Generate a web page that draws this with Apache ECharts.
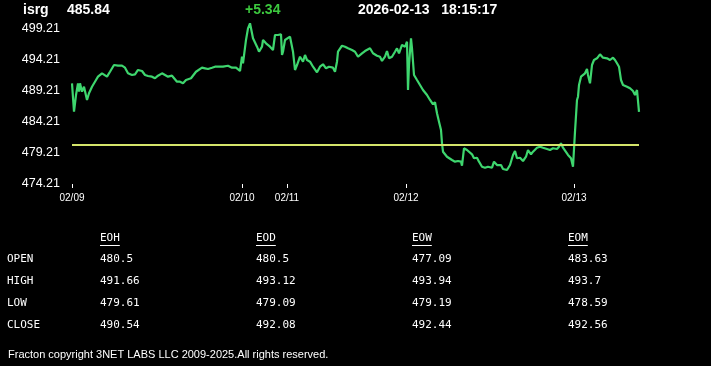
<!DOCTYPE html>
<html>
<head>
<meta charset="utf-8">
<script src="https://cdn.jsdelivr.net/npm/echarts@6/dist/echarts.min.js"></script>
<style>
html,body{margin:0;padding:0;background:#000;}
#c{width:711px;height:366px;}
</style>
</head>
<body>
<div id="c"></div>
<script>
// ---- data ----
const symbol = 'isrg';
const lastPrice = '485.84';
const change = '+5.34';
const stamp = '2026-02-13   18:15:17';
const refLevel = 480.5;

// sample index within the 5-session window, and price
const sampleIdx = [0,2,4,6,7,8,10,12,15,17,20,22,24,26,30,32,35,38,42,46,50,53,56,60,63,66,70,73,76,80,83,86,90,93,96,100,102,105,108,111,114,116,119,121,124,126,130,133,136,140,143,
145,151,156,160,164,168,170,171,174,176,178,180,181,183,185,187,190,191,194,196,198,201,203,206,209,210,211,213,215,218,220,221,223,225,228,231,233,235,238,241,243,245,248,251,254,257,261,263,265,266,270,273,276,280,283,286,
290,293,298,301,305,308,310,313,315,317,320,323,325,327,330,331,333,335,336,337,339,340,342,345,348,351,355,358,361,363,365,367,369,370,371,375,380,383,386,389,390,392,395,397,400,402,405,407,410,413,416,420,422,425,427,429,431,
435,438,441,443,445,448,451,454,456,459,461,465,468,471,475,478,481,485,487,489,491,493,496,499,501,502,503,505,506,507,509,511,513,515,516,518,520,522,525,528,531,535,538,541,543,545,547,549,551,555,558,561,563,565,566,567];
const price = [490.45,485.87,488.56,490.45,489.10,490.45,489.10,489.90,487.76,488.84,489.90,489.65,490.98,491.52,492.06,492.23,491.52,492.32,493.40,493.29,493.29,492.97,492.06,491.79,491.90,492.60,492.44,491.79,491.63,491.52,491.26,491.68,492.06,491.79,491.52,491.68,491.52,490.71,490.71,490.45,490.98,490.82,491.26,491.52,492.32,492.60,492.97,492.87,492.76,492.97,493.13,
493.13,493.13,493.29,492.97,492.97,492.44,494.74,493.68,497.44,499.32,500.13,499.86,497.71,497.60,496.36,495.55,496.36,497.44,496.90,496.63,496.36,495.82,498.24,498.24,498.36,495.02,495.55,497.44,497.71,497.97,497.71,495.55,492.60,493.40,494.74,493.94,495.02,494.21,493.94,493.13,492.87,492.23,493.13,493.52,492.87,493.13,492.97,492.32,493.94,495.55,496.52,496.36,496.10,495.82,495.55,494.74,
495.29,495.66,496.10,495.29,494.90,494.74,494.05,494.74,495.66,494.48,494.74,495.55,496.10,495.29,496.63,496.90,496.36,497.16,489.37,493.40,497.71,496.10,491.79,490.98,490.18,489.37,488.56,487.76,487.06,487.39,485.61,484.26,482.92,480.77,479.42,478.61,478.08,477.81,477.92,477.81,477.16,479.97,479.69,479.42,479.00,478.36,478.45,477.81,477.00,476.84,477.00,476.84,477.81,477.27,477.00,477.27,476.63,
476.47,477.27,478.89,479.53,478.36,478.45,477.92,478.61,479.69,479.00,479.42,480.06,480.23,480.06,479.86,479.69,479.97,479.86,480.23,480.77,480.06,479.86,478.89,478.36,477.00,476.74,482.65,487.76,488.29,490.18,491.52,491.79,492.06,492.76,491.79,490.45,493.40,494.21,494.48,495.13,494.58,494.48,494.21,494.58,494.21,493.68,493.13,490.98,490.18,489.90,489.65,489.21,488.56,489.37,489.53,485.84];

const dayStartIdx = [0,170,215,334,502];
const dayLabels = ['02/09','02/10','02/11','02/12','02/13'];
const yTicks = [474.21,479.21,484.21,489.21,494.21,499.21];

const colHeaders = ['EOH','EOD','EOW','EOM'];
const rowLabels = ['OPEN','HIGH','LOW','CLOSE'];
const eoh = ['480.5','491.66','479.61','490.54'];
const eod = ['480.5','493.12','479.09','492.08'];
const eow = ['477.09','493.94','479.19','492.44'];
const eom = ['483.63','493.7','478.59','492.56'];
const footer = 'Fracton copyright 3NET LABS LLC 2009-2025.All rights reserved.';

// ---- layout ----
const chart = echarts.init(document.getElementById('c'), null, {renderer:'canvas'});
const cols = [eoh, eod, eow, eom];
const colX = [100, 256, 412, 568];
const rowY = [259, 281, 303, 325];
const mono = '"DejaVu Sans Mono", monospace';
const g = [];
const txt = (x, y, t, o) => Object.assign({type:'text', x:x, y:y, silent:true,
  style:Object.assign({text:t, fill:'#fff', font:'11px ' + mono, textVerticalAlign:'middle'}, o||{})});
g.push(txt(23, 10, symbol, {font:'bold 14px "Liberation Sans", Arial, sans-serif'}));
g.push(txt(67, 10, lastPrice, {font:'bold 14px "Liberation Sans", Arial, sans-serif'}));
g.push(txt(245, 10, change, {font:'bold 14px "Liberation Sans", Arial, sans-serif', fill:'#3cc83e'}));
g.push(txt(358, 10, stamp, {font:'bold 14px "Liberation Sans", Arial, sans-serif'}));
colHeaders.forEach((h, i) => {
  g.push(txt(colX[i], 238, h));
  g.push({type:'line', silent:true, shape:{x1:colX[i], y1:245.5, x2:colX[i] + h.length*6.6, y2:245.5}, style:{stroke:'#fff', lineWidth:1}});
});
rowLabels.forEach((r, j) => {
  g.push(txt(7, rowY[j], r));
  cols.forEach((c, i) => g.push(txt(colX[i], rowY[j], c[j])));
});
g.push(txt(8, 355, footer, {font:'11px "Liberation Sans", Arial, sans-serif'}));

chart.setOption({
  backgroundColor:'#000',
  animation:false,
  grid:{left:72, right:72, top:29, bottom:182, containLabel:false},
  xAxis:{
    type:'value', min:0, max:567,
    axisLine:{show:false},
    splitLine:{show:false},
    axisTick:{show:true, length:4, lineStyle:{color:'#fff', width:1}, customValues:dayStartIdx},
    axisLabel:{color:'#fff', fontSize:10, fontFamily:'"Liberation Sans", Arial, sans-serif', margin:9,
      customValues:dayStartIdx,
      formatter:function(v){ const k = dayStartIdx.indexOf(Math.round(v)); return k >= 0 ? dayLabels[k] : ''; }}
  },
  yAxis:{
    type:'value', min:yTicks[0], max:yTicks[yTicks.length-1],
    axisLine:{show:false}, axisTick:{show:false}, splitLine:{show:false},
    axisLabel:{color:'#fff', fontSize:12.5, fontFamily:'"Liberation Sans", Arial, sans-serif', margin:12,
      customValues:yTicks, formatter:function(v){ return v.toFixed(2); }}
  },
  series:[{
    type:'line', clip:false, showSymbol:false, symbol:'none',
    data: sampleIdx.map((x, i) => [x, price[i]]),
    lineStyle:{color:'#3ed66e', width:2.2},
    markLine:{silent:true, symbol:'none', label:{show:false},
      lineStyle:{color:'#d4e46a', width:2, type:'solid'},
      data:[{yAxis:refLevel}]}
  }],
  graphic:g
});
</script>
</body>
</html>
